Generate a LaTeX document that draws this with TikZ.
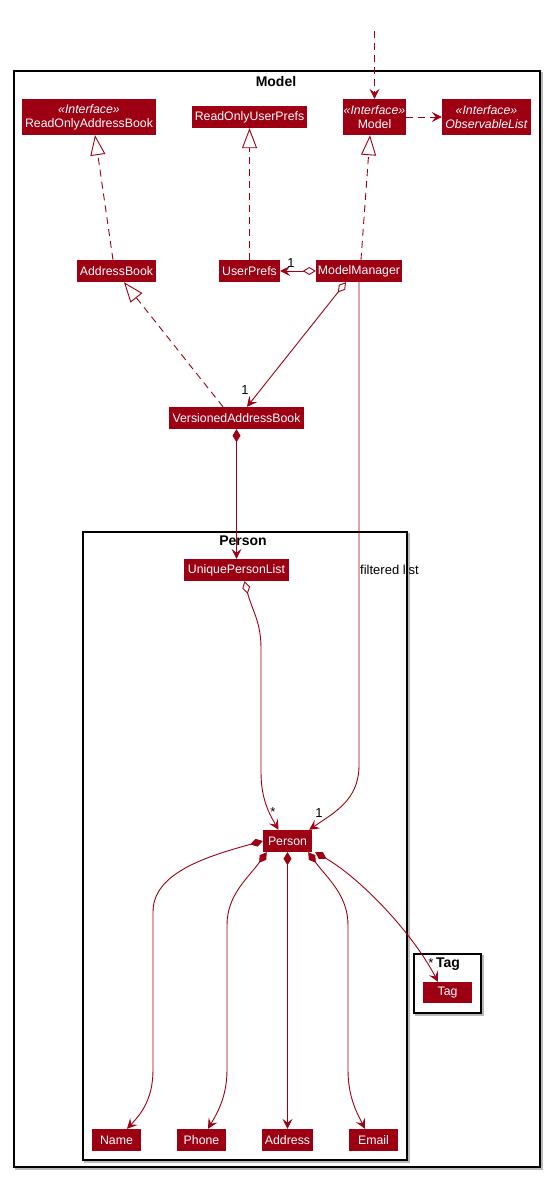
\documentclass[tikz,border=0pt]{standalone}
\usepackage{fontspec}
\setmainfont{Liberation Sans}
\usetikzlibrary{arrows.meta}
\definecolor{mred}{HTML}{9D0012}
\begin{document}
\begin{tikzpicture}[x=1pt,y=-1pt,
  cls/.style={fill=mred,text=white,inner sep=0pt,font=\fontsize{12.3}{14}\selectfont,align=center},
  frameline/.style={draw=black,line width=1.3pt,fill=white},
  shadowline/.style={draw=gray!55,line width=1.3pt},
  ftitle/.style={font=\fontsize{14}{16}\selectfont\bfseries,inner sep=0pt},
  lbl/.style={font=\fontsize{13}{15}\selectfont,inner sep=0pt},
  link/.style={draw=mred,line width=0.9pt},
  tipA/.tip={Stealth[length=10pt,width=10pt,inset=4pt]},
  dep/.style={link,dash pattern=on 7pt off 5pt,-tipA},
  real/.style={link,dash pattern=on 7pt off 5pt,-{Triangle[open,length=20pt,width=15pt,fill=white]}},
  aggr/.style={link,{Diamond[open,length=13pt,width=8pt,fill=white]}-tipA},
  comp/.style={link,{Diamond[length=13pt,width=8pt]}-tipA},
  assoc/.style={link,-tipA},
]
\useasboundingbox (0,0) rectangle (549,1178);
\fill[white] (0,0) rectangle (549,1178);

% frames
\draw[shadowline] (16,73) rectangle (542,1169);
\draw[frameline] (14,71) rectangle (540,1167);
\node[ftitle] (modelT) at (276,81) {Model};
\draw[shadowline] (85,534) rectangle (409,1162);
\draw[frameline] (83,532) rectangle (407,1160);
\node[ftitle] (personT) at (243,541) {Person};
\draw[shadowline] (416,956) rectangle (483,1015);
\draw[frameline] (414,954) rectangle (481,1013);
\node[ftitle] (tagT) at (448,964) {Tag};

% classes
\node[cls,minimum width=134pt,minimum height=36pt] (rab) at (89,117) {\textit{«Interface»}\\ReadOnlyAddressBook};
\node[cls,minimum width=115pt,minimum height=22pt] (rup) at (249.5,117) {ReadOnlyUserPrefs};
\node[cls,minimum width=63pt,minimum height=36pt] (model) at (374.5,117) {\textit{«Interface»}\\Model};
\node[cls,minimum width=89pt,minimum height=36pt] (obs) at (486.5,117) {\textit{«Interface»}\\\textit{ObservableList}};
\node[cls,minimum width=79pt,minimum height=22pt] (ab) at (116.5,271) {AddressBook};
\node[cls,minimum width=61pt,minimum height=22pt] (up) at (249.5,271) {UserPrefs};
\node[cls,minimum width=86pt,minimum height=22pt] (mm) at (359,271) {ModelManager};
\node[cls,minimum width=135pt,minimum height=22pt] (vab) at (236.5,418) {VersionedAddressBook};
\node[cls,minimum width=105pt,minimum height=22pt] (upl) at (236.5,570) {UniquePersonList};
\node[cls,minimum width=49pt,minimum height=22pt] (person) at (287.5,841) {Person};
\node[cls,minimum width=49pt,minimum height=22pt] (name) at (116.5,1140) {Name};
\node[cls,minimum width=49pt,minimum height=22pt] (phone) at (201.5,1140) {Phone};
\node[cls,minimum width=51pt,minimum height=22pt] (address) at (287.5,1140) {Address};
\node[cls,minimum width=49pt,minimum height=22pt] (email) at (373.5,1140) {Email};
\node[cls,minimum width=49pt,minimum height=21pt] (tag) at (447.5,992.5) {Tag};

% connectors
\coordinate (topstart) at (374.5,31);
\draw[dep] (topstart) -- (model.north);
\draw[dep] (model.east) -- (obs.west);

\draw[real] ([xshift=-3.5pt]ab.north) -- ([xshift=6pt]rab.south);
\draw[real] (up.north) -- (rup.south);
\draw[real] ([xshift=2pt]mm.north) -- ([xshift=-4.5pt]model.south);
\draw[real] ([xshift=-13.5pt]vab.north) -- ([xshift=7.5pt]ab.south);

\draw[aggr] (mm.west) -- (up.east);
\node[lbl] (l1) at (291,263) {1};
\draw[aggr] ([xshift=-13pt]mm.south) -- ([xshift=10.5pt]vab.north);
\node[lbl] (l2) at (245,390) {1};

\draw[comp] (vab.south) -- (upl.north);

\draw[assoc] (mm.south) -- (359,765) .. controls (359,800) and (335,812) .. ([xshift=-3pt]person.north east);
\node[lbl] (fl) at (389.5,570) {filtered list};
\node[lbl] (l3) at (319,813) {1};

\draw[aggr] ([xshift=8pt]upl.south) .. controls (252,610) and (261,622) .. (261,648) -- (261,772) .. controls (261,800) and (270,815) .. ([xshift=-9pt]person.north);
\node[lbl] (l4) at (273,812) {*};

\draw[comp] (person.west) .. controls (200,858) and (153,875) .. (153,912) -- (153,1070) .. controls (153,1100) and (140,1115) .. ([xshift=10.5pt]name.north);
\draw[comp] ([xshift=4pt]person.south west) .. controls (248,878) and (227,895) .. (227,925) -- (227,1070) .. controls (227,1098) and (216,1115) .. ([xshift=6.5pt]phone.north);
\draw[comp] (person.south) -- (address.north);
\draw[comp] ([xshift=-4pt]person.south east) .. controls (327,878) and (348,895) .. (348,925) -- (348,1070) .. controls (348,1098) and (358,1115) .. ([xshift=-8.5pt]email.north);
\draw[comp] ([xshift=3pt]person.south east) .. controls (360,878) and (412,932) .. ([xshift=-9.5pt]tag.north);
\node[lbl] (l5) at (431,963) {*};
\end{tikzpicture}
\end{document}
